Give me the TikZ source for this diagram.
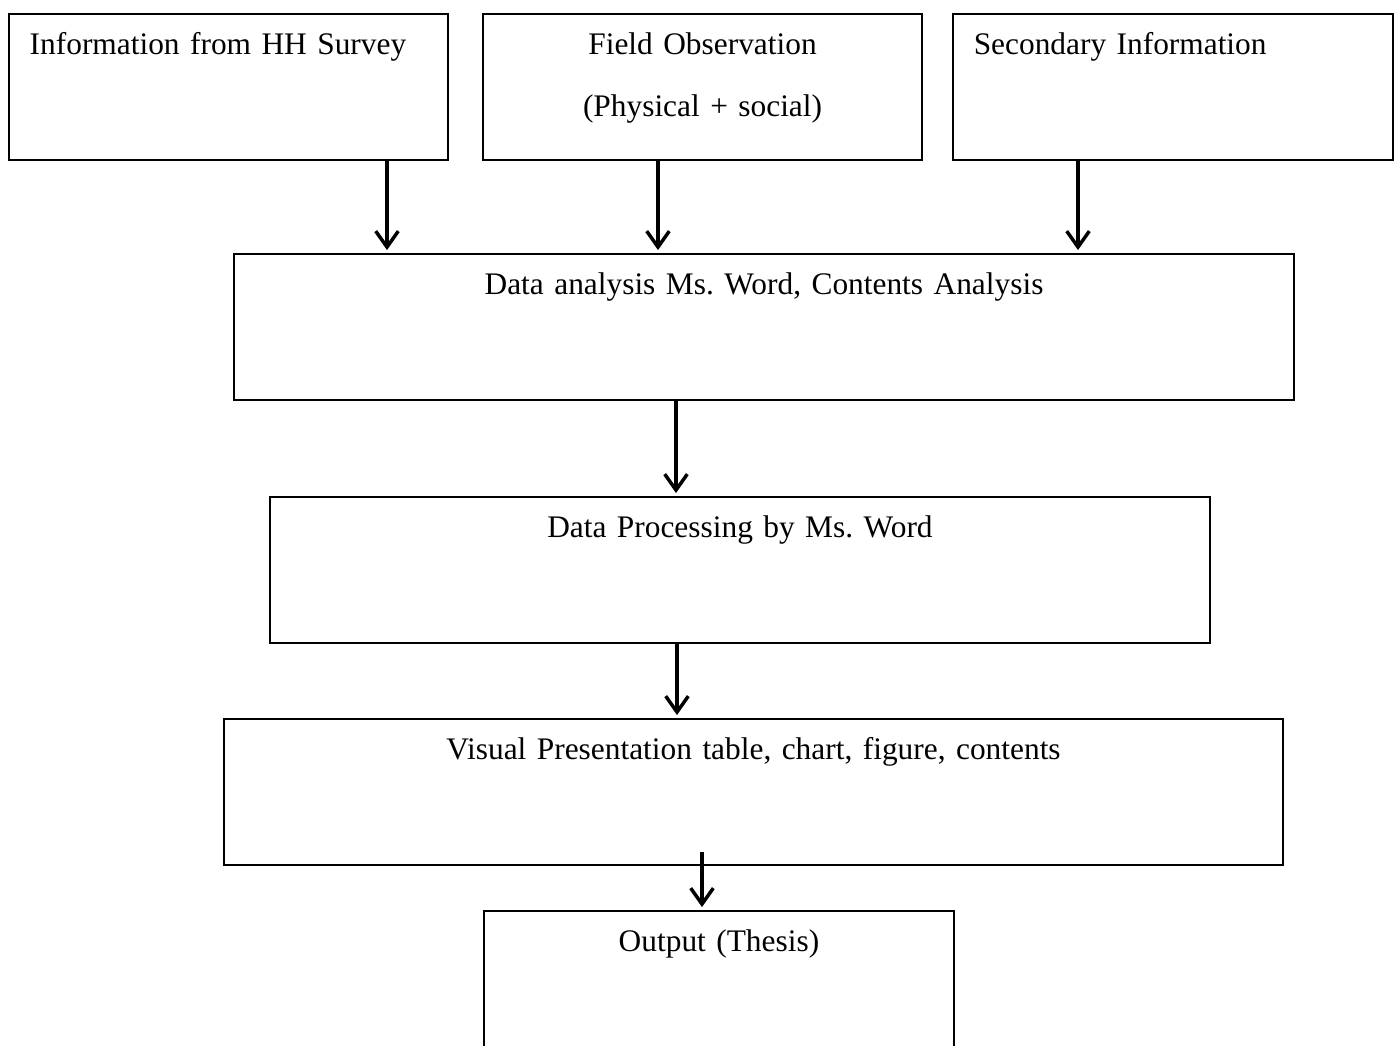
\documentclass[tikz,border=0pt]{standalone}
\usepackage{fontspec}
\setmainfont[WordSpace={0.8,0,0}]{Liberation Serif}
\frenchspacing
\usetikzlibrary{
  arrows.meta,
  positioning
}

\begin{document}
\begin{tikzpicture}[
  x=0.376pt,
  y=-0.376pt,
  font=\fontsize{11.8pt}{23pt}\selectfont,
  stagebox/.style={
    draw,
    line width=0.75pt,
    anchor=north west,
    inner xsep=7.8pt,
    inner ysep=0pt,
    text height=15.4pt,
    text depth=39.5pt,
    text width=#1,
    align=center
    },
  sourcebox/.style={
    stagebox=#1,
    align=left
    },
  flow/.style={
    line width=1.3pt,
    -{Straight Barb[length=6pt,width=8.5pt]},
    shorten >=1.1pt
    }
]
\useasboundingbox (0,0) rectangle (1395,1046);
\clip (0,0) rectangle (1395,1046);

% sources
\node[sourcebox=149.5pt] (survey) at (8,13) {Information from HH Survey};
\node[stagebox=149.5pt] (field) at (482,13) {Field Observation\\(Physical + social)};
\node[sourcebox=149.8pt] (secondary) at (952,13) {Secondary Information};

% stages
\node[stagebox=383pt] (analysis) at (233,253) {Data analysis Ms. Word, Contents Analysis};
\node[stagebox=337.8pt] (processing) at (269,496) {Data Processing by Ms. Word};
\node[stagebox=382.6pt] (visual) at (223,718) {Visual Presentation table, chart, figure, contents};
\node[stagebox=161.1pt] (output) at (483,910) {Output (Thesis)};

% arrows
\coordinate (a1) at (387,0);
\coordinate (a2) at (658,0);
\coordinate (a3) at (1078,0);
\coordinate (a4) at (676,0);
\coordinate (a5) at (677,0);
\coordinate (a6) at (702,852);
\draw[flow] (survey.south -| a1) -- (analysis.north -| a1);
\draw[flow] (field.south -| a2) -- (analysis.north -| a2);
\draw[flow] (secondary.south -| a3) -- (analysis.north -| a3);
\draw[flow] (analysis.south -| a4) -- (processing.north -| a4);
\draw[flow] (processing.south -| a5) -- (visual.north -| a5);
\draw[flow] (a6) -- (output.north -| a6);
\end{tikzpicture}
\end{document}
